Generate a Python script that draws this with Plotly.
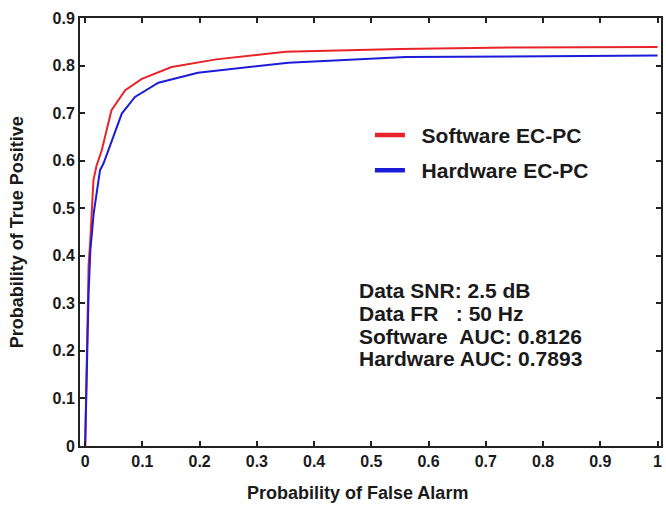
import plotly.graph_objects as go

# ROC data
sw_fpr = [0, 0.002, 0.004, 0.006, 0.009, 0.012, 0.0145, 0.02, 0.029, 0.046, 0.07, 0.099, 0.151, 0.229, 0.35, 0.55, 0.75, 1.0]
sw_tpr = [0, 0.15, 0.30, 0.38, 0.433, 0.50, 0.559, 0.59, 0.622, 0.706, 0.748, 0.772, 0.797, 0.813, 0.829, 0.835, 0.838, 0.839]
hw_fpr = [0, 0.003, 0.006, 0.009, 0.015, 0.026, 0.032, 0.04, 0.064, 0.087, 0.128, 0.197, 0.355, 0.56, 0.8, 1.0]
hw_tpr = [0, 0.20, 0.32, 0.41, 0.49, 0.58, 0.594, 0.62, 0.699, 0.734, 0.764, 0.785, 0.806, 0.818, 0.820, 0.821]

series_names = ["Software EC-PC", "Hardware EC-PC"]
series_colors = ["#e8242a", "#1c1cd8"]

x_ticks = [0, 0.1, 0.2, 0.3, 0.4, 0.5, 0.6, 0.7, 0.8, 0.9, 1]
x_ticktext = ["0", "0.1", "0.2", "0.3", "0.4", "0.5", "0.6", "0.7", "0.8", "0.9", "1"]
y_ticks = [0, 0.1, 0.2, 0.3, 0.4, 0.5, 0.6, 0.7, 0.8, 0.9]
y_ticktext = ["0", "0.1", "0.2", "0.3", "0.4", "0.5", "0.6", "0.7", "0.8", "0.9"]

info_lines = [
    "Data SNR: 2.5 dB",
    "Data FR\u00a0\u00a0\u00a0: 50 Hz",
    "Software\u00a0\u00a0AUC: 0.8126",
    "Hardware AUC: 0.7893",
]
info_y = [0.327, 0.279, 0.231, 0.183]

FONT = "Liberation Sans, Arial, sans-serif"
TXT = "#1a1a1a"

fig = go.Figure()
for xs, ys, c in [(sw_fpr, sw_tpr, series_colors[0]), (hw_fpr, hw_tpr, series_colors[1])]:
    fig.add_trace(go.Scatter(x=xs, y=ys, mode="lines", line=dict(color=c, width=2),
                             showlegend=False, hoverinfo="skip"))
# legend entries (thicker line samples as in reference)
for i, (n, c) in enumerate(zip(series_names, series_colors)):
    fig.add_trace(go.Scatter(x=[None], y=[None], mode="lines", name="\u00a0\u00a0" + n,
                             line=dict(color=c, width=4.5), legendgroup=f"g{i}"))

axis_common = dict(
    showline=True, linecolor="#222", linewidth=2, mirror="ticks",
    ticks="inside", ticklen=5, tickwidth=1.5, tickcolor="#222",
    showgrid=False, zeroline=False,
    tickfont=dict(family=FONT, size=16, color=TXT, weight="bold"),
)
fig.update_xaxes(range=[-0.009, 1.006], tickvals=x_ticks, ticktext=x_ticktext, **axis_common)
fig.update_yaxes(range=[0, 0.9], tickvals=y_ticks, ticktext=y_ticktext, **axis_common)

for t, yy in zip(info_lines, info_y):
    fig.add_annotation(x=0.475, y=yy, xref="x", yref="y", text=t, showarrow=False,
                       xanchor="left", yanchor="middle",
                       font=dict(family=FONT, size=21, color=TXT, weight="bold"))

fig.add_annotation(x=0.478, y=-0.1095, xref="paper", yref="paper", text="Probability of False Alarm",
                   showarrow=False, xanchor="center", yanchor="middle",
                   font=dict(family=FONT, size=18, color=TXT, weight="bold"))
fig.add_annotation(x=-0.108, y=0.5, xref="paper", yref="paper", text="Probability of True Positive",
                   showarrow=False, textangle=-90, xanchor="center", yanchor="middle",
                   font=dict(family=FONT, size=18, color=TXT, weight="bold"))

fig.update_layout(
    width=666, height=505,
    margin=dict(l=80, r=3, t=18, b=59),
    paper_bgcolor="white", plot_bgcolor="white",
    legend=dict(x=0.499, y=0.774, xanchor="left", yanchor="top",
                bgcolor="rgba(0,0,0,0)", tracegroupgap=5,
                font=dict(family=FONT, size=21, color=TXT, weight="bold"),
                itemwidth=30),
)

fig.write_html("out.html", config={"displayModeBar": False},
               post_script="document.body.style.margin='0px';")
